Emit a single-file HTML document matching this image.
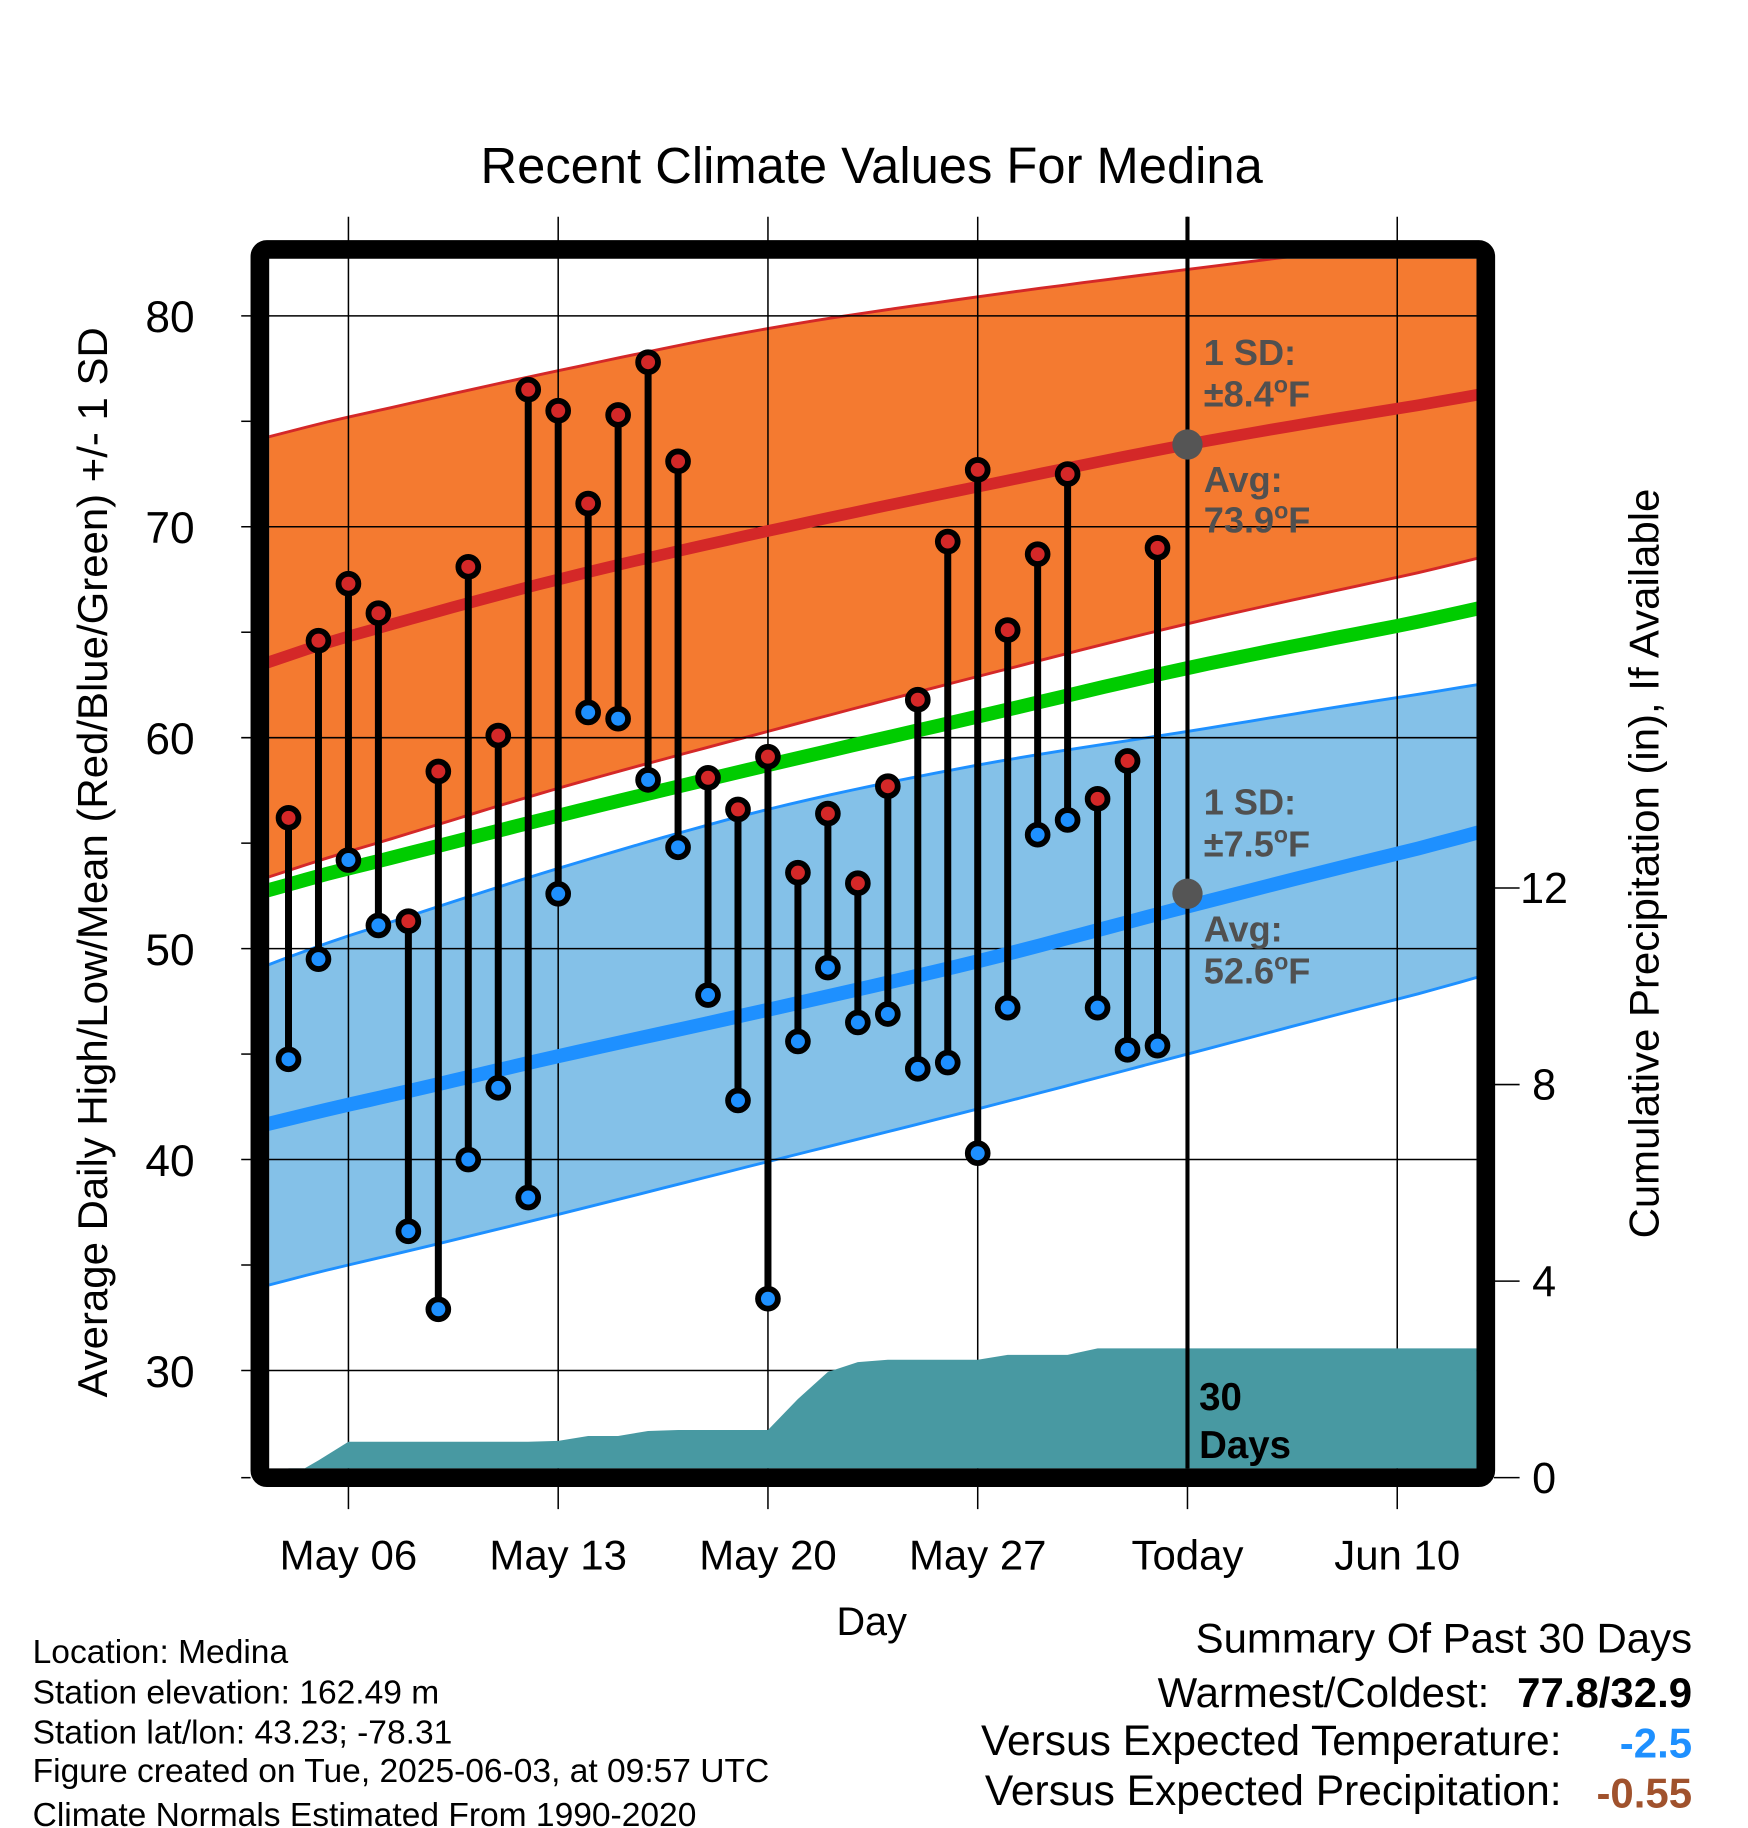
<!DOCTYPE html>
<html><head><meta charset="utf-8"><style>
html,body{margin:0;padding:0;background:#fff}
svg{display:block}
text{font-family:"Liberation Sans",sans-serif}
</style></head><body>
<svg id="chart" width="1748" height="1828" viewBox="0 0 1500 1568.6" xmlns="http://www.w3.org/2000/svg">
<defs><clipPath id="plotclip"><rect x="231" y="222" width="1036" height="1038"/></clipPath></defs>
<g id="bands" clip-path="url(#plotclip)"></g>
<g id="grid"></g>
<g id="precip"></g>
<g id="lines" clip-path="url(#plotclip)"></g>
<g id="today"></g>
<g id="marks"></g>
<g id="frame"></g>
<g id="labels"></g>
</svg>
<script>
// ---- data ----
const days = ["May04","May05","May06","May07","May08","May09","May10","May11","May12","May13","May14","May15","May16","May17","May18","May19","May20","May21","May22","May23","May24","May25","May26","May27","May28","May29","May30","May31","Jun01","Jun02"];
const highs = [56.2,64.6,67.3,65.9,51.3,58.4,68.1,60.1,76.5,75.5,71.1,75.3,77.8,73.1,58.1,56.6,59.1,53.6,56.4,53.1,57.7,61.8,69.3,72.7,65.1,68.7,72.5,57.1,58.9,69.0];
const lows = [44.75,49.5,54.2,51.1,36.6,32.9,40.0,43.4,38.2,52.6,61.2,60.9,58.0,54.8,47.8,42.8,33.4,45.6,49.1,46.5,46.9,44.3,44.6,40.3,47.2,55.4,56.1,47.2,45.2,45.4];
const precipCum = [0,0.35,0.73,0.73,0.73,0.73,0.73,0.73,0.73,0.75,0.85,0.85,0.95,0.97,0.97,0.97,0.97,1.6,2.15,2.35,2.4,2.4,2.4,2.4,2.5,2.5,2.5,2.63,2.63,2.63,2.63];
// normals sampled weekly, day offsets from May 6
const normDays = [-7,0,7,14,21,28,35,42];
const normHigh = [61.9,64.8,67.5,69.8,71.9,73.9,75.6,77.1];
const normHighUp = [73.0,75.2,77.4,79.4,80.9,82.2,83.4,84.4];
const normHighLo = [51.8,54.6,57.6,60.3,62.9,65.4,67.6,69.7];
const normMean = [51.4,53.8,56.3,58.7,61.0,63.3,65.3,67.2];
const normLow = [40.5,42.6,44.9,47.1,49.4,52.0,54.5,56.8];
const normLowUp = [47.4,50.6,53.8,56.6,58.7,60.3,61.9,63.3];
const normLowLo = [32.8,35.0,37.4,39.9,42.4,45.0,47.6,50.0];
const yTicks = [30,40,50,60,70,80];
const pTicks = [0,4,8,12];
const xTickDays = [0,7,14,21,28,35];
const xTickLabels = ["May 06","May 13","May 20","May 27","Today","Jun 10"];

// ---- axes ----
const L=231,R=1267,T=222,B=1260;
const x = d => 299 + d*180/7;
const y = v => 271 + (80-v)*18.1;
const yp = p => 1268 - p*(1268-762)/12;
const NS="http://www.w3.org/2000/svg";
function mk(parent,tag,attrs,txt){const e=document.createElementNS(NS,tag);for(const k in attrs)e.setAttribute(k,attrs[k]);if(txt!==undefined)e.textContent=txt;document.getElementById(parent).appendChild(e);return e;}
function smoothPts(arr){
  const out=[];const n=normDays.length;
  for(let i=0;i<n-1;i++){
    const p0=arr[Math.max(0,i-1)],p1=arr[i],p2=arr[i+1],p3=arr[Math.min(n-1,i+2)];
    const d0=normDays[i],d1=normDays[i+1];
    for(let s=0;s<10;s++){const t=s/10;
      const v=0.5*((2*p1)+(-p0+p2)*t+(2*p0-5*p1+4*p2-p3)*t*t+(-p0+3*p1-3*p2+p3)*t*t*t);
      out.push(x(d0+(d1-d0)*t).toFixed(1)+","+y(v).toFixed(1));}
  }
  out.push(x(normDays[n-1]).toFixed(1)+","+y(arr[n-1]).toFixed(1));
  return out;
}

let e;
e=mk("bands","polygon",{points:smoothPts(normHighUp).concat(smoothPts(normHighLo).reverse()).join(" "),fill:"#f47a30"});


e=mk("bands","polygon",{points:smoothPts(normLowUp).concat(smoothPts(normLowLo).reverse()).join(" "),fill:"#84c1e8"});


[[normHighUp,"#d42828"],[normHighLo,"#d42828"],[normLowUp,"#1e90ff"],[normLowLo,"#1e90ff"]].forEach(a=>{
  e=mk("bands","polyline",{points:smoothPts(a[0]).join(" "),fill:"none",stroke:a[1],"stroke-width":2.5});
  
  
});

// precip area
const pp=[x(-2)+","+yp(0)];
precipCum.forEach((p,i)=>pp.push(x(i-2).toFixed(1)+","+yp(p).toFixed(1)));
pp.push(R+","+yp(precipCum[precipCum.length-1]).toFixed(1));
pp.push(R+","+B);pp.push(x(-2)+","+B);
e=mk("precip","polygon",{points:pp.join(" "),fill:"#4899a2"});



// grid
yTicks.forEach(v=>{
  e=mk("grid","line",{x1:207,x2:R,y1:y(v),y2:y(v),stroke:"#000","stroke-width":1.3});
  
  
  e=mk("labels","text",{x:167,y:y(v)+14,"text-anchor":"end","font-size":38},String(v));
  
  
});
[35,45,55,65,75].forEach(v=>{mk("grid","line",{x1:207,x2:215,y1:y(v),y2:y(v),stroke:"#000","stroke-width":1.3});});
mk("grid","line",{x1:207,x2:215,y1:1268,y2:1268,stroke:"#000","stroke-width":1.3});
xTickDays.forEach((d,i)=>{
  e=mk("grid","line",{x1:x(d),x2:x(d),y1:186,y2:1295,stroke:"#000","stroke-width":1.3});
  
  
  e=mk("labels","text",{x:x(d),y:1347,"text-anchor":"middle","font-size":36},xTickLabels[i]);
  
  
});
pTicks.forEach(p=>{
  mk("grid","line",{x1:1282,x2:1304,y1:yp(p),y2:yp(p),stroke:"#000","stroke-width":1.3});
  e=mk("labels","text",{x:1325,y:yp(p)+13,"font-size":37,"text-anchor":"middle"},String(p));
  
  
});

// normal lines
[[normMean,"#00cc00",12,'mean-normal-line'],[normHigh,"#d42828",10,'high-normal-line'],[normLow,"#1e90ff",12,'low-normal-line']].forEach(a=>{
  e=mk("lines","polyline",{points:smoothPts(a[0]).join(" "),fill:"none",stroke:a[1],"stroke-width":a[2]});
  
  
});
e=mk("today","line",{x1:x(28),x2:x(28),y1:186,y2:B,stroke:"#000","stroke-width":3.5});


e=mk("today","circle",{cx:x(28),cy:y(73.9),r:13,fill:"#555"});


e=mk("today","circle",{cx:x(28),cy:y(52.6),r:13,fill:"#555"});



// daily marks
days.forEach((dname,i)=>{
  const cx=x(i-2);
  e=mk("marks","line",{x1:cx,x2:cx,y1:y(highs[i]),y2:y(lows[i]),stroke:"#000","stroke-width":6});
  
  
  e=mk("marks","circle",{cx:cx,cy:y(highs[i]),r:8.5,fill:"#d42828",stroke:"#000","stroke-width":5});
  
  
  e=mk("marks","circle",{cx:cx,cy:y(lows[i]),r:8.5,fill:"#1e90ff",stroke:"#000","stroke-width":5});
  
  
});

e=mk("frame","rect",{x:223,y:214,width:1052,height:1054,fill:"none",stroke:"#000","stroke-width":16,rx:6});



function txt(x0,y0,s,size,opts){const a=Object.assign({x:x0,y:y0,"font-size":size},opts||{});return mk("labels","text",a,s);}
e=txt(748,157,"Recent Climate Values For Medina",43.5,{"text-anchor":"middle"});


e=txt(0,0,"Average Daily High/Low/Mean (Red/Blue/Green) +/- 1 SD",36,{"text-anchor":"middle",transform:"translate(92,740) rotate(-90)"});


e=txt(0,0,"Cumulative Precipitation (in), If Available",36,{"text-anchor":"middle",transform:"translate(1423,741) rotate(-90)"});


e=txt(748,1403,"Day",34,{"text-anchor":"middle"});


function annot(y0,s,deg){
  const t=txt(1033,y0+11,s,31,{"font-weight":"bold",fill:"#505050"});
  if(deg){const a=document.createElementNS(NS,"tspan");a.setAttribute("dy","-12");a.setAttribute("font-size","20");a.textContent="o";t.appendChild(a);
    const b=document.createElementNS(NS,"tspan");b.setAttribute("dy","12");b.textContent="F";t.appendChild(b);}
  
  
}
annot(302,"1 SD:");annot(338,"±8.4",true);annot(411,"Avg:");annot(446,"73.9",true);
annot(688,"1 SD:");annot(724,"±7.5",true);annot(797,"Avg:");annot(833,"52.6",true);
e=txt(1029,1210,"30",33,{"font-weight":"bold"});


e=txt(1029,1251,"Days",33,{"font-weight":"bold"});


const info=[["Location: Medina",1418],["Station elevation: 162.49 m",1453],["Station lat/lon: 43.23; -78.31",1487],["Figure created on Tue, 2025-06-03, at 09:57 UTC",1520],["Climate Normals Estimated From 1990-2020",1558]];
info.forEach(a=>{e=txt(28,a[1]+9,a[0],28.8);

});
e=txt(1452,1418,"Summary Of Past 30 Days",36,{"text-anchor":"end"});


e=txt(1278,1465,"Warmest/Coldest:",36,{"text-anchor":"end"});


e=txt(1452,1465,"77.8/32.9",36,{"text-anchor":"end","font-weight":"bold"});


e=txt(1340,1506,"Versus Expected Temperature:",36.5,{"text-anchor":"end"});


e=txt(1452,1508,"-2.5",36,{"text-anchor":"end","font-weight":"bold",fill:"#1e90ff"});


e=txt(1340,1549,"Versus Expected Precipitation:",36.5,{"text-anchor":"end"});


e=txt(1452,1551,"-0.55",36,{"text-anchor":"end","font-weight":"bold",fill:"#a0522d"});


</script>
</body></html>
